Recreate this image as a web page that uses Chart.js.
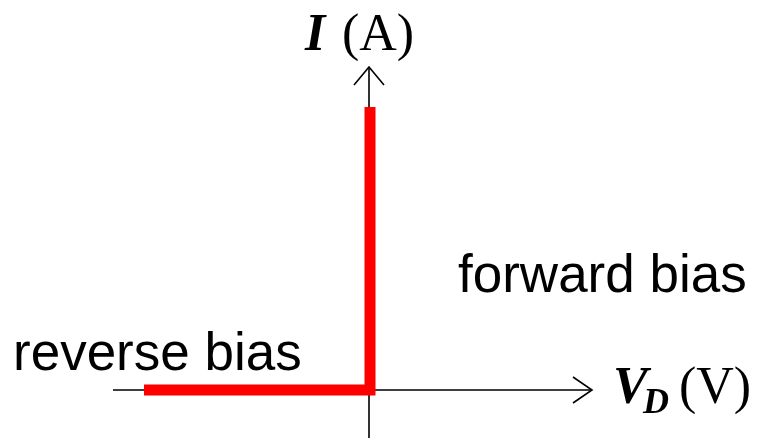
<!DOCTYPE html>
<html lang="en">

<head>
    <meta charset="UTF-8">
    <title>Diode I-V</title>
    <style>
        body { margin: 0; background: #fff; }
    </style>
</head>

<body>

    <div style="width: 761px; height: 438px;">
        <canvas id="myChart"></canvas>
    </div>
    <script src="https://cdn.jsdelivr.net/npm/chart.js"></script>
    <script>
        // ideal diode curve: flat at 0 in reverse bias, vertical at 0 V in forward bias
        const curveV = [-2.26, 0, 0];
        const curveI = [0, 0, 2.83];

        // axis extents (value units) and view window
        const xAxisRange = [-2.57, 2.22];
        const yAxisRange = [-0.48, 3.23];
        const xView = [-3.70, 3.91];
        const yView = [-0.48, 3.90];

        // label anchors (value units): [x, y]
        const currentLabelAt = [-0.65, 3.40];
        const voltageLabelAt = [2.45, -0.13];
        const forwardLabelAt = [0.88, 0.98];
        const reverseLabelAt = [-3.57, 0.20];

        const ctx = document.getElementById('myChart');

        // axes with open arrow heads go under the curve, labels on top
        const axesPlugin = {
            id: 'axesPlugin',
            beforeDatasetsDraw(chart) {
                const c = chart.ctx;
                const xs = chart.scales.x, ys = chart.scales.y;
                const x0 = xs.getPixelForValue(0) - 1;
                const y0 = ys.getPixelForValue(0);
                const xL = xs.getPixelForValue(xAxisRange[0]);
                const xR = xs.getPixelForValue(xAxisRange[1]);
                const yB = ys.getPixelForValue(yAxisRange[0]);
                const yT = ys.getPixelForValue(yAxisRange[1]);

                c.save();
                c.strokeStyle = '#000';
                c.lineWidth = 1.6;
                c.beginPath();
                c.moveTo(xL, y0);
                c.lineTo(xR, y0);
                c.moveTo(x0, yB);
                c.lineTo(x0, yT);
                c.stroke();

                // arrow heads
                c.beginPath();
                c.moveTo(xR - 19, y0 - 13);
                c.lineTo(xR, y0);
                c.lineTo(xR - 19, y0 + 13);
                c.moveTo(x0 - 15, yT + 18);
                c.lineTo(x0, yT);
                c.lineTo(x0 + 15, yT + 18);
                c.stroke();
                c.restore();
            },
            afterDraw(chart) {
                const c = chart.ctx;
                const xs = chart.scales.x, ys = chart.scales.y;
                const px = p => xs.getPixelForValue(p[0]);
                const py = p => ys.getPixelForValue(p[1]);

                c.save();
                c.fillStyle = '#000';
                c.textBaseline = 'alphabetic';
                c.textAlign = 'left';

                // I (A)
                let x = px(currentLabelAt), y = py(currentLabelAt);
                c.font = 'italic bold 52px "Liberation Serif", serif';
                c.fillText('I', x, y);
                c.font = '52px "Liberation Serif", serif';
                c.fillText('(A)', x + 37, y);

                // V_D (V)
                x = px(voltageLabelAt) - 2; y = py(voltageLabelAt);
                c.font = 'italic bold 52px "Liberation Serif", serif';
                c.fillText('V', x, y);
                c.font = 'italic bold 36px "Liberation Serif", serif';
                c.fillText('D', x + 30, y + 10);
                c.font = '52px "Liberation Serif", serif';
                c.fillText('(V)', x + 66, y);

                // bias labels
                c.font = '53px "Liberation Sans", Arial, sans-serif';
                c.fillText('forward bias', px(forwardLabelAt), py(forwardLabelAt));
                c.fillText('reverse bias', px(reverseLabelAt), py(reverseLabelAt));
                c.restore();
            }
        };

        const myChart = new Chart(ctx, {
            type: 'line',
            data: {
                datasets: [{
                    label: 'I-V',
                    data: curveV.map((v, i) => ({ x: v, y: curveI[i] })),
                    borderColor: '#ff0000',
                    borderWidth: 11,
                    borderCapStyle: 'butt',
                    borderJoinStyle: 'miter',
                    pointRadius: 0,
                    tension: 0,
                    fill: false
                }]
            },
            options: {
                responsive: true,
                maintainAspectRatio: false,
                animation: false,
                layout: { padding: 0 },
                plugins: {
                    legend: { display: false },
                    tooltip: { enabled: false }
                },
                scales: {
                    x: { type: 'linear', min: xView[0], max: xView[1], display: false },
                    y: { type: 'linear', min: yView[0], max: yView[1], display: false }
                }
            },
            plugins: [axesPlugin]
        });
    </script>

</body>

</html>
